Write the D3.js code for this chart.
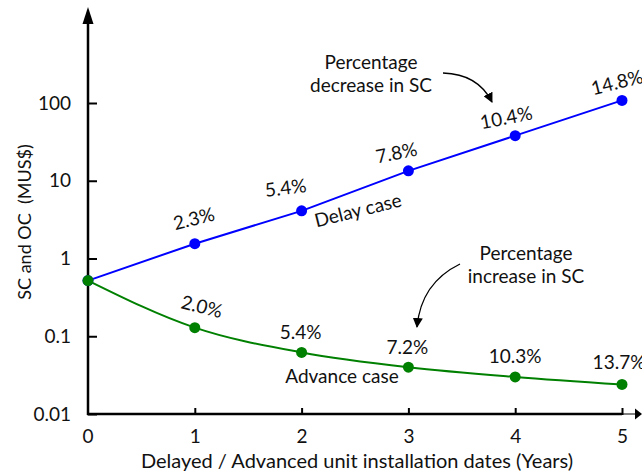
<!DOCTYPE html>
<html>
<head>
<meta charset="utf-8">
<script src="https://cdn.jsdelivr.net/npm/d3@7"></script>
<style>
  body { margin: 0; background: #fff; }
  #chart { width: 642px; height: 473px; }
  text { font-family: Lato, "Open Sans", sans-serif; fill: #111; white-space: pre; }
</style>
</head>
<body>
<div id="chart"></div>
<script>
// 数据
const years = [0, 1, 2, 3, 4, 5];
const delayCost = [0.52, 1.55, 4.1, 13.4, 38, 108];
const advanceCost = [0.52, 0.129, 0.062, 0.040, 0.030, 0.024];
const delayPct = ["", "2.3%", "5.4%", "7.8%", "10.4%", "14.8%"];
const advancePct = ["", "2.0%", "5.4%", "7.2%", "10.3%", "13.7%"];
const yTicks = [0.01, 0.1, 1, 10, 100];
const xTicks = [1, 2, 3, 4, 5];

const width = 642, height = 473;
const fs = 19; // 字号
const svg = d3.select("#chart").append("svg")
    .attr("width", width)
    .attr("height", height);

const x = d3.scaleLinear().domain([0, 5]).range([88, 622]);
const y = d3.scaleLog().domain([0.01, 100]).range([414, 103]);

// 箭头
svg.append("defs").append("marker")
    .attr("id", "head")
    .attr("viewBox", "0 0 10 10")
    .attr("refX", 9).attr("refY", 5)
    .attr("markerWidth", 10).attr("markerHeight", 10)
    .attr("markerUnits", "userSpaceOnUse")
    .attr("orient", "auto")
    .append("path").attr("d", "M0,0L10,5L0,10Z").attr("fill", "#000");

// 坐标轴
const yAxis = d3.axisLeft(y)
    .tickValues(yTicks)
    .tickFormat(d => d >= 1 ? d3.format("d")(d) : String(d))
    .tickSize(-9)
    .tickPadding(17);

svg.append("g")
    .attr("transform", `translate(${x(0)},0)`)
    .call(yAxis)
    .call(g => g.select(".domain").remove())
    .call(g => g.selectAll(".tick line").attr("stroke", "#000").attr("stroke-width", 2))
    .call(g => g.selectAll(".tick text").attr("font-size", fs).attr("font-family", "Lato, sans-serif").attr("fill", "#111"));

const xAxis = d3.axisBottom(x)
    .tickValues(xTicks)
    .tickFormat(d3.format("d"))
    .tickSize(-6)
    .tickPadding(16);

svg.append("g")
    .attr("transform", `translate(0,${y(0.01)})`)
    .call(xAxis)
    .call(g => g.select(".domain").remove())
    .call(g => g.selectAll(".tick line").attr("stroke", "#000").attr("stroke-width", 2).attr("y2", -6).attr("y1", 1))
    .call(g => g.selectAll(".tick text").attr("font-size", fs).attr("font-family", "Lato, sans-serif").attr("fill", "#111"));

// x=0 标签
svg.append("text")
    .attr("x", x(0)).attr("y", y(0.01) + 16)
    .attr("dy", "0.71em")
    .attr("text-anchor", "middle")
    .attr("font-size", fs)
    .text("0");

// 轴线
svg.append("line")
    .attr("x1", x(0)).attr("x2", x(0))
    .attr("y1", y(0.01) + 1).attr("y2", 22)
    .attr("stroke", "#000").attr("stroke-width", 2.5);
svg.append("path")
    .attr("d", `M${x(0) - 5.5},24L${x(0)},7L${x(0) + 5.5},24Z`)
    .attr("fill", "#000");

svg.append("line")
    .attr("x1", x(0) - 1).attr("x2", x(5))
    .attr("y1", y(0.01)).attr("y2", y(0.01))
    .attr("stroke", "#000").attr("stroke-width", 2.5);
svg.append("line")
    .attr("x1", x(5)).attr("x2", 636)
    .attr("y1", y(0.01)).attr("y2", y(0.01))
    .attr("stroke", "#000").attr("stroke-width", 1);
svg.append("path")
    .attr("d", `M635,${y(0.01) - 5.5}L642,${y(0.01)}L635,${y(0.01) + 5.5}Z`)
    .attr("fill", "#000");

// 轴标题
svg.append("text")
    .attr("transform", "translate(31,222) rotate(-90)")
    .attr("text-anchor", "middle")
    .attr("font-size", 18)
    .text("SC and OC  (MUS$)");

svg.append("text")
    .attr("x", 357).attr("y", 468)
    .attr("text-anchor", "middle")
    .attr("font-size", 20)
    .text("Delayed / Advanced unit installation dates (Years)");

// 曲线
const delayData = years.map((d, i) => ({ x: d, v: delayCost[i], label: delayPct[i] }));
const advanceData = years.map((d, i) => ({ x: d, v: advanceCost[i], label: advancePct[i] }));

const lineLinear = d3.line().x(d => x(d.x)).y(d => y(d.v));
const lineSmooth = d3.line().x(d => x(d.x)).y(d => y(d.v)).curve(d3.curveMonotoneX);

svg.append("path")
    .datum(delayData)
    .attr("d", lineLinear)
    .attr("fill", "none")
    .attr("stroke", "#0000ff")
    .attr("stroke-width", 2);

svg.append("path")
    .datum(advanceData)
    .attr("d", lineSmooth)
    .attr("fill", "none")
    .attr("stroke", "#008000")
    .attr("stroke-width", 2);

svg.selectAll("circle.delay")
    .data(delayData)
    .join("circle")
    .attr("class", "delay")
    .attr("cx", d => x(d.x)).attr("cy", d => y(d.v))
    .attr("r", 5.5)
    .attr("fill", "#0000ff");

svg.selectAll("circle.advance")
    .data(advanceData)
    .join("circle")
    .attr("class", "advance")
    .attr("cx", d => x(d.x)).attr("cy", d => y(d.v))
    .attr("r", 5.5)
    .attr("fill", "#008000");

// 百分比标签（相对数据点偏移）
const delayOffsets = [null, [-1, -25, -14], [-16, -23, -7], [-12, -18, -11], [-9, -18, -11], [-5, -18, -14]];
const advanceOffsets = [null, [7, -21, 14], [-1, -20, 0], [-1, -20, 0], [0, -21, 0], [-3, -22, 0]];

function pctLabels(data, offsets, cls) {
    svg.selectAll("text." + cls)
        .data(data.filter(d => d.label))
        .join("text")
        .attr("class", cls)
        .attr("text-anchor", "middle")
        .attr("dy", "0.35em")
        .attr("font-size", fs)
        .attr("transform", d => {
            const o = offsets[d.x];
            return `translate(${x(d.x) + o[0]},${y(d.v) + o[1]}) rotate(${o[2]})`;
        })
        .text(d => d.label);
}
pctLabels(delayData, delayOffsets, "pct-delay");
pctLabels(advanceData, advanceOffsets, "pct-advance");

// 曲线名称
svg.append("text")
    .attr("transform", `translate(${(x(2) + x(3)) / 2 + 3},${y(6.5) + 15}) rotate(-14)`)
    .attr("text-anchor", "middle")
    .attr("dy", "0.35em")
    .attr("font-size", fs)
    .text("Delay case");

svg.append("text")
    .attr("x", (x(2) + x(3)) / 2 - 13).attr("y", 376)
    .attr("text-anchor", "middle")
    .attr("dy", "0.35em")
    .attr("font-size", fs)
    .text("Advance case");

// 注释
const notes = [
    { lines: ["Percentage", "decrease in SC"], cx: 371, cy: 62, arrow: "M443,73Q478,74 492,102" },
    { lines: ["Percentage", "increase in SC"], cx: 526, cy: 253, arrow: "M460,264Q421,283 417,327" }
];

notes.forEach(n => {
    const t = svg.append("text")
        .attr("text-anchor", "middle")
        .attr("font-size", fs);
    n.lines.forEach((l, i) => {
        t.append("tspan")
            .attr("x", n.cx).attr("y", n.cy + i * 23)
            .attr("dy", "0.35em")
            .text(l);
    });
    svg.append("path")
        .attr("d", n.arrow)
        .attr("fill", "none")
        .attr("stroke", "#000")
        .attr("stroke-width", 1.3)
        .attr("marker-end", "url(#head)");
});
</script>
</body>
</html>
